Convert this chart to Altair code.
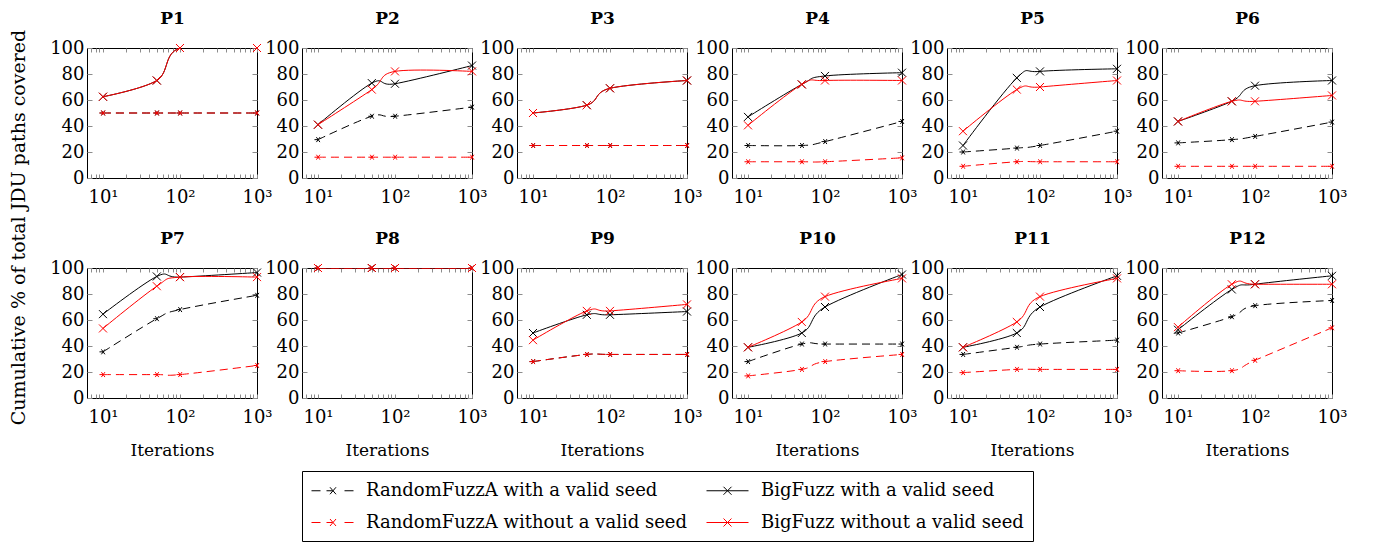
import altair as alt
import pandas as pd

FONT = "DejaVu Serif"
GRAY = "#8c8c8c"

panels = [f"P{i}" for i in range(1, 13)]
iterations = [10, 50, 100, 1000]
series_names = ["RandomFuzzA with a valid seed", "BigFuzz with a valid seed",
                "RandomFuzzA without a valid seed", "BigFuzz without a valid seed"]

random_valid = [
    [50, 50, 50, 50], [29.5, 47.5, 47.5, 54.5], [25, 25, 25, 25], [25, 25, 28, 43.5],
    [20, 23, 25, 36], [27, 29.5, 32, 43], [35.5, 61, 68, 79], [100, 100, 100, 100],
    [28, 33.5, 33.5, 33.5], [28, 41.5, 41.5, 41.5], [33.5, 39, 41.5, 44.5], [50, 62.5, 71, 75],
]
bigfuzz_valid = [
    [62.5, 75, 100, 100], [41, 73, 72.5, 86.5], [50, 56, 69, 75], [47, 72, 78.5, 81],
    [25, 77, 82, 84], [43.5, 59, 71, 75], [64.5, 93.5, 93, 96.5], [100, 100, 100, 100],
    [50, 64, 64, 66.5], [39, 50, 70, 95], [39, 50, 70, 94], [52.5, 83.5, 87.5, 94],
]
random_invalid = [
    [50, 50, 50, 50], [16, 16, 16, 16], [25, 25, 25, 25], [12.5, 12.5, 12.5, 15.5],
    [9, 12.5, 12.5, 12.5], [9, 9, 9, 9], [18, 18, 18, 25], [100, 100, 100, 100],
    [28, 33.5, 33.5, 33.5], [17, 22, 28, 33.5], [19.5, 22, 22, 22], [21, 21, 29, 54],
]
bigfuzz_invalid = [
    [62.5, 75, 100, 100], [41, 68, 82, 82], [50, 56, 69, 75], [40.5, 72, 75, 75],
    [36, 68, 70, 75], [43.5, 59, 59, 63.5], [53.5, 86, 93, 93], [100, 100, 100, 100],
    [44.5, 67, 67, 72], [39, 58.5, 78, 92], [39, 58.5, 78, 92], [54.5, 87.5, 87.5, 87.5],
]

x_tick_values = [10, 100, 1000]
x_tick_labels = ["10¹", "10²", "10³"]
x_minor_ticks = [7, 8, 9, 10, 20, 30, 40, 50, 60, 70, 80, 90, 100,
                 200, 300, 400, 500, 600, 700, 800, 900, 1000]
y_tick_values = [0, 20, 40, 60, 80, 100]

rows = []
for s_name, table in zip(series_names, [random_valid, bigfuzz_valid, random_invalid, bigfuzz_invalid]):
    for p, vals in zip(panels, table):
        for it, v in zip(iterations, vals):
            rows.append({"panel": p, "series": s_name, "iteration": it, "value": v})
df = pd.DataFrame(rows)

label_expr = " : ".join(f"datum.value == {v} ? '{l}'" for v, l in zip(x_tick_values, x_tick_labels)) + " : ''"

RF_MARK = "M-1,0L0,0M-0.45,-0.7L0.55,0.7M-0.45,0.7L0.55,-0.7"
X_MARK = "M-1,-1L1,1M-1,1L1,-1"
RF_LEG = ("M-2.1,0L-1.2,0M1.2,0L2.1,0M-0.6,0L0,0"
          "M-0.25,-0.35L0.35,0.35M-0.25,0.35L0.35,-0.35")
BF_LEG = "M-2.1,0L2.1,0M-0.4,-0.4L0.4,0.4M-0.4,0.4L0.4,-0.4"

styles = {
    series_names[0]: dict(color="black", dash=[8, 5], shape=RF_MARK, size=49),
    series_names[1]: dict(color="black", dash=None, shape=X_MARK, size=64),
    series_names[2]: dict(color="#ff0000", dash=[8, 5], shape=RF_MARK, size=49),
    series_names[3]: dict(color="#ff0000", dash=None, shape=X_MARK, size=64),
}

W, H = 170, 130
XDOM = [6.2, 1000]

legend = alt.Legend(
    title=None, orient="none", legendX=215, legendY=423, columns=2, direction="horizontal",
    strokeColor="black", fillColor="white", padding=9, rowPadding=12, columnPadding=16,
    labelFont=FONT, labelFontSize=18, labelColor="black", labelLimit=600,
    symbolSize=400, symbolStrokeWidth=1, symbolOffset=11, labelOffset=23, cornerRadius=0,
)


def make_panel(i):
    name = panels[i]
    d = df[df.panel == name]
    row2 = i >= 6
    xs = alt.Scale(type="log", domain=XDOM, nice=False)
    ys = alt.Scale(domain=[0, 100], nice=False)
    base = alt.Chart(d)

    def X(axis):
        return alt.X("iteration:Q", scale=xs, axis=axis)

    def Y(axis):
        return alt.Y("value:Q", scale=ys, axis=axis)

    ghost = base.mark_point(opacity=0)

    xlab_kwargs = dict(orient="bottom", values=x_tick_values, labelExpr=label_expr, ticks=False,
                       domain=False, grid=False, labelPadding=10, labelFlush=False,
                       labelOverlap=False, labelFontSize=18, labelFont=FONT)
    if row2:
        xlab_kwargs.update(title="Iterations", titleFontSize=17, titlePadding=16,
                           titleFontWeight="normal", titleFont=FONT)
    else:
        xlab_kwargs.update(title=None)

    ylab_kwargs = dict(orient="left", values=y_tick_values, ticks=False, domain=False, grid=False,
                       labelPadding=3, labelFontSize=18, labelFont=FONT)
    if i == 6:
        ylab_kwargs.update(title="Cumulative % of total JDU paths covered", titleFontSize=19,
                           titleFontWeight="normal", titleFont=FONT, titleAngle=270,
                           titleX=-63, titleY=-41, titleAlign="center", titleBaseline="alphabetic")
    else:
        ylab_kwargs.update(title=None)

    lab = ghost.encode(x=X(alt.Axis(**xlab_kwargs)), y=Y(alt.Axis(**ylab_kwargs)))

    tick_common = dict(labels=False, domain=False, grid=False, ticks=True, tickColor=GRAY,
                       tickWidth=1)
    xb = ghost.encode(
        x=X(alt.Axis(orient="bottom", values=x_minor_ticks, tickSize=4, offset=-4,
                     title=None, **tick_common)),
        y=Y(None))
    xt = ghost.encode(
        x=X(alt.Axis(orient="top", values=x_minor_ticks, tickSize=4, offset=-4,
                     title=name, titleFont=FONT, titleFontSize=17, titleFontWeight="bold",
                     titleX=W / 2, titleY=-34, titleAlign="center", titleBaseline="middle",
                     titleAngle=0, **tick_common)),
        y=Y(None))
    yl = ghost.encode(
        x=X(None),
        y=Y(alt.Axis(orient="left", values=y_tick_values, tickSize=5, offset=-5,
                     title=None, **tick_common)))
    yr = ghost.encode(
        x=X(None),
        y=Y(alt.Axis(orient="right", values=y_tick_values, tickSize=5, offset=-5,
                     title=None, **tick_common)))

    layers = [lab, xb, xt, yl, yr]
    for s in series_names:
        st = styles[s]
        sub = base.transform_filter(alt.datum.series == s)
        line_kwargs = dict(color=st["color"], strokeWidth=1, interpolate="cardinal", tension=0,
                           clip=True)
        if st["dash"]:
            line_kwargs["strokeDash"] = st["dash"]
        layers.append(sub.mark_line(**line_kwargs).encode(x=X(None), y=Y(None)))
        layers.append(sub.mark_point(shape=st["shape"], size=st["size"], color=st["color"],
                                     filled=False, strokeWidth=1, opacity=1)
                      .encode(x=X(None), y=Y(None)))

    if i == 0:
        leg = base.transform_filter("false").mark_point(filled=False, opacity=1, strokeWidth=1).encode(
            x=X(None), y=Y(None),
            color=alt.Color("series:N", scale=alt.Scale(domain=series_names,
                                                        range=["black", "black", "#ff0000", "#ff0000"]),
                            legend=legend),
            shape=alt.Shape("series:N", scale=alt.Scale(domain=series_names,
                                                        range=[RF_LEG, BF_LEG, RF_LEG, BF_LEG]),
                            legend=legend),
        )
        layers.append(leg)

    return alt.layer(*layers).resolve_axis(x="independent", y="independent").properties(
        width=W, height=H)


row_a = alt.hconcat(*[make_panel(i) for i in range(6)], spacing=45, bounds="flush")
row_b = alt.hconcat(*[make_panel(i) for i in range(6, 12)], spacing=45, bounds="flush")

chart = alt.vconcat(row_a, row_b, spacing=220, bounds="flush").configure_view(
    stroke="black", strokeWidth=1
).configure_axis(labelColor="black", titleColor="black").properties(
    padding=0, background="white"
)

chart.save("out.html", embed_options={"renderer": "svg", "actions": False})
